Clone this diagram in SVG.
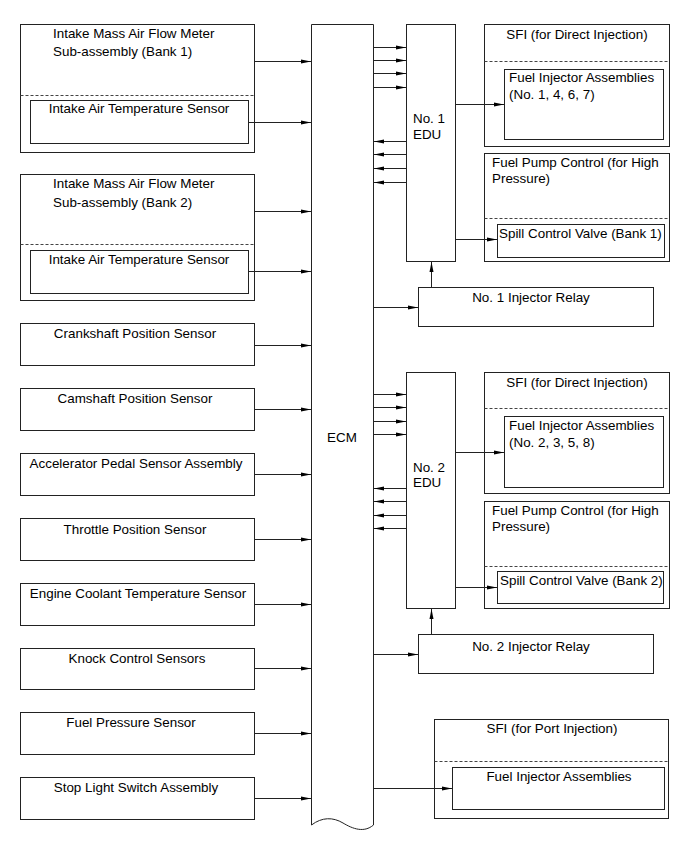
<svg xmlns="http://www.w3.org/2000/svg" width="689" height="854" viewBox="0 0 689 854">
<style>
.b{fill:#fff;stroke:#222;stroke-width:1}
.d{fill:none;stroke:#444;stroke-width:1;stroke-dasharray:3,2}
.c{fill:none;stroke:#222;stroke-width:1}
text{font-family:"Liberation Sans",Arial,sans-serif;font-size:13.4px;fill:#000}
.m{text-anchor:middle}
</style>
<defs>
<marker id="ah" markerUnits="userSpaceOnUse" markerWidth="10" markerHeight="6" refX="10" refY="3" orient="auto">
<path d="M0,1 L10,3 L0,5 z" fill="#000"/>
</marker>
</defs>
<rect width="689" height="854" fill="#fff"/>

<g id="maf1">
<rect class="b" x="20.5" y="24.5" width="234" height="128"/>
<line class="d" x1="20.5" y1="95.5" x2="254.5" y2="95.5"/>
<text x="53" y="38">Intake Mass Air Flow Meter</text>
<text x="53" y="56">Sub-assembly (Bank 1)</text>
</g>
<g id="iat1">
<rect class="b" x="30.5" y="100.5" width="218" height="43"/>
<text class="m" x="139" y="113">Intake Air Temperature Sensor</text>
</g>
<g id="maf2">
<rect class="b" x="20.5" y="174.5" width="234" height="126"/>
<line class="d" x1="20.5" y1="244.5" x2="254.5" y2="244.5"/>
<text x="53" y="188">Intake Mass Air Flow Meter</text>
<text x="53" y="207">Sub-assembly (Bank 2)</text>
</g>
<g id="iat2">
<rect class="b" x="30.5" y="250.5" width="218" height="43"/>
<text class="m" x="139" y="264">Intake Air Temperature Sensor</text>
</g>
<g id="ckp">
<rect class="b" x="20.5" y="323.5" width="234" height="42"/>
<text class="m" x="135" y="338">Crankshaft Position Sensor</text>
</g>
<g id="cmp">
<rect class="b" x="20.5" y="388.5" width="234" height="42"/>
<text class="m" x="135" y="403">Camshaft Position Sensor</text>
</g>
<g id="app">
<rect class="b" x="20.5" y="453.5" width="234" height="42"/>
<text class="m" x="136" y="468">Accelerator Pedal Sensor Assembly</text>
</g>
<g id="tps">
<rect class="b" x="20.5" y="518.5" width="234" height="42"/>
<text class="m" x="135" y="534">Throttle Position Sensor</text>
</g>
<g id="ect">
<rect class="b" x="20.5" y="583.5" width="234" height="42"/>
<text class="m" x="138" y="598">Engine Coolant Temperature Sensor</text>
</g>
<g id="knk">
<rect class="b" x="20.5" y="648.5" width="234" height="41"/>
<text class="m" x="137" y="663">Knock Control Sensors</text>
</g>
<g id="fps">
<rect class="b" x="20.5" y="712.5" width="234" height="42"/>
<text class="m" x="131" y="727">Fuel Pressure Sensor</text>
</g>
<g id="stp">
<rect class="b" x="20.5" y="777.5" width="234" height="42"/>
<text class="m" x="136" y="792">Stop Light Switch Assembly</text>
</g>

<g id="ecm">
<path class="b" d="M311.5,825 L311.5,24.5 L373.5,24.5 L373.5,825 C364,833 353,829 343,823 C333,817 322,817 311.5,825 z"/>
<text class="m" x="342" y="442">ECM</text>
</g>

<g id="edu1">
<rect class="b" x="406.5" y="24.5" width="49" height="237"/>
<text x="413" y="123">No. 1</text>
<text x="413" y="139">EDU</text>
</g>
<g id="sfi1">
<rect class="b" x="484.5" y="24.5" width="185" height="122"/>
<line class="d" x1="484.5" y1="61.5" x2="669.5" y2="61.5"/>
<text class="m" x="577" y="39">SFI (for Direct Injection)</text>
</g>
<g id="inj1">
<rect class="b" x="504.5" y="69.5" width="159" height="70"/>
<text x="509" y="82">Fuel Injector Assemblies</text>
<text x="509" y="99">(No. 1, 4, 6, 7)</text>
</g>
<g id="fpc1">
<rect class="b" x="484.5" y="153.5" width="185" height="108"/>
<line class="d" x1="484.5" y1="218.5" x2="669.5" y2="218.5"/>
<text x="492" y="167">Fuel Pump Control (for High</text>
<text x="492" y="183">Pressure)</text>
</g>
<g id="scv1">
<rect class="b" x="497.5" y="224.5" width="167" height="33"/>
<text x="499" y="238">Spill Control Valve (Bank 1)</text>
</g>
<g id="relay1">
<rect class="b" x="418.5" y="287.5" width="235" height="39"/>
<text class="m" x="531" y="302">No. 1 Injector Relay</text>
</g>

<g id="edu2">
<rect class="b" x="406.5" y="372.5" width="49" height="236"/>
<text x="413" y="472">No. 2</text>
<text x="413" y="487">EDU</text>
</g>
<g id="sfi2">
<rect class="b" x="484.5" y="372.5" width="185" height="121"/>
<line class="d" x1="484.5" y1="408.5" x2="669.5" y2="408.5"/>
<text class="m" x="577" y="387">SFI (for Direct Injection)</text>
</g>
<g id="inj2">
<rect class="b" x="504.5" y="416.5" width="159" height="71"/>
<text x="509" y="430">Fuel Injector Assemblies</text>
<text x="509" y="447">(No. 2, 3, 5, 8)</text>
</g>
<g id="fpc2">
<rect class="b" x="484.5" y="501.5" width="185" height="107"/>
<line class="d" x1="484.5" y1="566.5" x2="669.5" y2="566.5"/>
<text x="492" y="515">Fuel Pump Control (for High</text>
<text x="492" y="531">Pressure)</text>
</g>
<g id="scv2">
<rect class="b" x="497.5" y="571.5" width="166" height="32"/>
<text x="500" y="585">Spill Control Valve (Bank 2)</text>
</g>
<g id="relay2">
<rect class="b" x="418.5" y="634.5" width="235" height="39"/>
<text class="m" x="531" y="651">No. 2 Injector Relay</text>
</g>

<g id="sfip">
<rect class="b" x="434.5" y="719.5" width="234" height="99"/>
<line class="d" x1="434.5" y1="761.5" x2="668.5" y2="761.5"/>
<text class="m" x="552" y="733">SFI (for Port Injection)</text>
</g>
<g id="injp">
<rect class="b" x="452.5" y="767.5" width="212" height="42"/>
<text class="m" x="559" y="781">Fuel Injector Assemblies</text>
</g>

<g id="connectors" class="c" marker-end="url(#ah)">
<line x1="254.5" y1="61.5" x2="311" y2="61.5"/>
<line x1="248.5" y1="122.5" x2="311" y2="122.5"/>
<line x1="254.5" y1="211.5" x2="311" y2="211.5"/>
<line x1="248.5" y1="271.5" x2="311" y2="271.5"/>
<line x1="254.5" y1="345.5" x2="311" y2="345.5"/>
<line x1="254.5" y1="409.5" x2="311" y2="409.5"/>
<line x1="254.5" y1="474.5" x2="311" y2="474.5"/>
<line x1="254.5" y1="539.5" x2="311" y2="539.5"/>
<line x1="254.5" y1="604.5" x2="311" y2="604.5"/>
<line x1="254.5" y1="668.5" x2="311" y2="668.5"/>
<line x1="254.5" y1="733.5" x2="311" y2="733.5"/>
<line x1="254.5" y1="798.5" x2="311" y2="798.5"/>

<line x1="373.5" y1="47.5" x2="406" y2="47.5"/>
<line x1="373.5" y1="60.5" x2="406" y2="60.5"/>
<line x1="373.5" y1="73.5" x2="406" y2="73.5"/>
<line x1="373.5" y1="87.5" x2="406" y2="87.5"/>
<line x1="406.5" y1="141.5" x2="374" y2="141.5"/>
<line x1="406.5" y1="154.5" x2="374" y2="154.5"/>
<line x1="406.5" y1="168.5" x2="374" y2="168.5"/>
<line x1="406.5" y1="182.5" x2="374" y2="182.5"/>
<line x1="455.5" y1="104.5" x2="504" y2="104.5"/>
<line x1="455.5" y1="239.5" x2="497" y2="239.5"/>
<line x1="431.5" y1="287.5" x2="431.5" y2="262"/>
<line x1="373.5" y1="307.5" x2="418" y2="307.5"/>

<line x1="373.5" y1="394.5" x2="406" y2="394.5"/>
<line x1="373.5" y1="407.5" x2="406" y2="407.5"/>
<line x1="373.5" y1="421.5" x2="406" y2="421.5"/>
<line x1="373.5" y1="434.5" x2="406" y2="434.5"/>
<line x1="406.5" y1="488.5" x2="374" y2="488.5"/>
<line x1="406.5" y1="501.5" x2="374" y2="501.5"/>
<line x1="406.5" y1="515.5" x2="374" y2="515.5"/>
<line x1="406.5" y1="528.5" x2="374" y2="528.5"/>
<line x1="455.5" y1="452.5" x2="504" y2="452.5"/>
<line x1="455.5" y1="587.5" x2="497" y2="587.5"/>
<line x1="431.5" y1="634.5" x2="431.5" y2="609"/>
<line x1="373.5" y1="654.5" x2="418" y2="654.5"/>
<line x1="373.5" y1="788.5" x2="452" y2="788.5"/>
</g>
</svg>
